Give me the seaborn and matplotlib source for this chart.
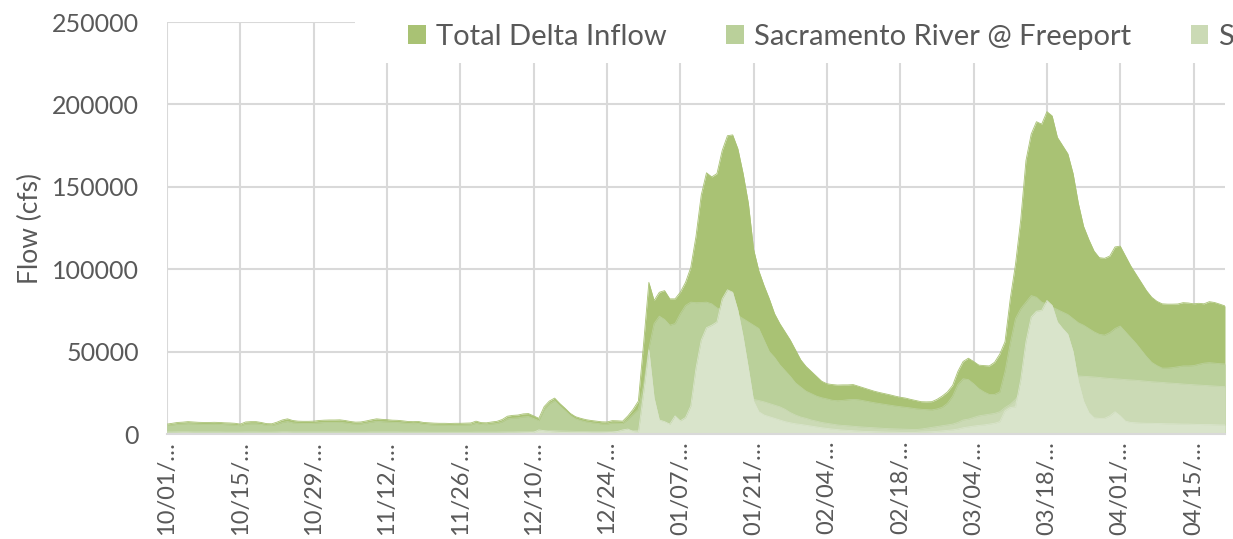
import numpy as np
import pandas as pd
import matplotlib
matplotlib.use('Agg')
import matplotlib.pyplot as plt
import seaborn as sns
from matplotlib.patches import Patch, Rectangle
from matplotlib.ticker import FuncFormatter

# Daily flows in thousand cfs, 10/01 to 04/21
total_kcfs = [
    6.0, 6.5, 7.0, 7.2, 7.5, 7.3, 7.1, 7.0, 7.0, 7.1, 7.0, 6.8, 6.7, 6.5,
    6.0, 7.3, 7.5, 7.5, 7.0, 6.3, 6.2, 7.2, 8.5, 9.2, 8.2, 7.8, 7.7, 7.7,
    7.8, 8.2, 8.4, 8.5, 8.5, 8.6, 8.2, 7.6, 7.2, 7.3, 7.9, 8.6, 9.2, 8.9,
    8.7, 8.4, 8.3, 8.0, 7.6, 7.5, 7.6, 7.0, 6.8, 6.6, 6.5, 6.5, 6.4, 6.5,
    6.5, 6.6, 6.7, 7.8, 6.9, 6.8, 7.3, 7.7, 8.8, 10.8, 11.3, 11.5, 12.2, 12.4,
    11.0, 9.5, 16.6, 20.0, 21.8, 18.5, 15.6, 12.5, 10.5, 9.5, 8.7, 8.2, 7.8, 7.4,
    7.3, 8.1, 8.0, 7.8, 11.0, 15.0, 20.0, 55.0, 92.0, 81.0, 86.0, 87.0, 82.0, 82.0,
    86.0, 92.0, 101.0, 120.0, 145.0, 158.5, 156.0, 158.0, 172.0, 181.0, 181.5, 173.0, 158.0, 140.0,
    112.0, 99.0, 90.0, 82.0, 73.0, 67.0, 62.0, 57.0, 51.0, 45.0, 41.0, 38.0, 35.0, 32.0,
    30.5, 30.0, 29.7, 29.8, 29.8, 30.0, 29.0, 28.0, 27.0, 26.0, 25.2, 24.5, 23.8, 23.0,
    22.3, 21.8, 21.0, 20.3, 19.6, 19.5, 19.6, 21.0, 23.0, 25.5, 29.5, 38.0, 44.0, 46.0,
    44.0, 41.8, 41.5, 41.3, 43.5, 48.5, 56.0, 82.0, 103.0, 130.0, 166.0, 182.0, 189.5, 188.0,
    195.6, 193.0, 180.0, 175.0, 170.0, 158.0, 140.0, 126.0, 118.0, 111.0, 107.0, 106.6, 108.0, 113.5,
    114.0, 108.0, 102.0, 97.0, 92.0, 87.0, 83.0, 80.5, 79.0, 78.8, 78.8, 78.9, 79.7, 79.5,
    79.0, 79.3, 79.0, 80.3, 79.8, 78.8, 77.7,
]
sacramento_kcfs = [
    5.2, 5.5, 5.9, 6.1, 6.3, 6.2, 6.0, 5.9, 5.9, 6.0, 5.9, 5.7, 5.6, 5.4,
    5.0, 6.0, 6.2, 6.2, 5.8, 5.3, 5.2, 5.9, 7.0, 7.6, 6.8, 6.5, 6.4, 6.4,
    6.5, 6.8, 7.0, 7.0, 7.0, 7.1, 6.8, 6.3, 6.0, 6.1, 6.6, 7.2, 7.7, 7.5,
    7.3, 7.1, 7.0, 6.8, 6.4, 6.3, 6.4, 5.9, 5.7, 5.5, 5.4, 5.4, 5.3, 5.4,
    5.4, 5.5, 5.6, 6.5, 5.8, 5.7, 6.1, 6.4, 7.4, 9.2, 9.6, 9.8, 10.4, 10.6,
    9.4, 8.1, 14.8, 18.3, 20.2, 17.0, 14.2, 11.2, 9.2, 8.2, 7.4, 6.9, 6.5, 6.1,
    6.0, 6.7, 6.6, 6.4, 8.8, 12.0, 15.0, 30.0, 52.0, 67.0, 71.5, 69.5, 66.0, 67.0,
    73.0, 78.0, 80.0, 79.7, 79.8, 80.0, 79.0, 76.5, 75.5, 74.0, 73.0, 72.0, 70.0, 68.0,
    66.0, 64.0, 57.0, 50.0, 46.5, 42.0, 38.5, 35.0, 31.0, 28.5, 26.0, 24.5, 23.0, 22.0,
    21.3, 20.5, 20.2, 20.4, 20.8, 21.0, 20.8, 20.2, 19.6, 19.0, 18.5, 18.0, 17.5, 17.0,
    16.6, 16.2, 15.8, 15.3, 15.0, 14.8, 14.6, 15.2, 16.2, 18.6, 23.0, 30.0, 33.5, 33.0,
    30.5, 27.5, 25.5, 24.0, 24.0, 25.5, 38.0, 55.0, 70.0, 76.0, 80.0, 84.0, 83.0, 80.0,
    79.0, 77.0, 75.5, 74.0, 72.5, 70.0, 67.5, 66.0, 64.0, 62.0, 60.5, 60.0, 61.5, 64.0,
    65.5, 62.0, 58.5, 55.0, 51.0, 47.0, 43.5, 41.5, 40.0, 40.0, 40.3, 40.8, 41.3, 41.3,
    41.5, 42.3, 43.0, 43.3, 43.0, 42.7, 42.5,
]
san_joaquin_kcfs = [
    1.3, 1.3, 1.4, 1.4, 1.4, 1.3, 1.3, 1.3, 1.3, 1.3, 1.3, 1.2, 1.2, 1.2,
    1.2, 1.3, 1.3, 1.3, 1.2, 1.2, 1.2, 1.3, 1.4, 1.4, 1.3, 1.3, 1.3, 1.3,
    1.3, 1.3, 1.3, 1.3, 1.3, 1.3, 1.3, 1.2, 1.2, 1.2, 1.2, 1.3, 1.3, 1.3,
    1.3, 1.3, 1.3, 1.2, 1.2, 1.2, 1.2, 1.2, 1.1, 1.1, 1.1, 1.1, 1.1, 1.1,
    1.1, 1.1, 1.1, 1.2, 1.2, 1.2, 1.2, 1.2, 1.3, 1.3, 1.3, 1.4, 1.4, 1.4,
    1.4, 1.5, 1.8, 2.0, 2.0, 1.9, 1.8, 1.7, 1.6, 1.5, 1.5, 1.4, 1.4, 1.4,
    1.4, 1.5, 1.5, 1.6, 1.8, 2.0, 2.2, 3.0, 4.0, 5.0, 5.0, 5.0, 5.0, 5.0,
    5.0, 5.5, 6.0, 9.0, 13.0, 17.0, 20.0, 22.0, 23.0, 24.0, 24.0, 23.5, 23.0, 22.0,
    21.0, 20.3, 19.5, 18.5, 17.5, 16.5, 15.0, 13.0, 11.5, 10.3, 9.5, 8.5, 7.8, 7.0,
    6.5, 6.0, 5.5, 5.2, 5.0, 4.7, 4.4, 4.2, 4.0, 3.8, 3.6, 3.4, 3.2, 3.1,
    3.0, 2.9, 2.8, 2.7, 3.0, 3.5, 4.0, 4.5, 5.0, 5.5, 6.0, 7.0, 8.5, 9.0,
    10.0, 11.0, 11.5, 12.0, 12.5, 13.5, 16.0, 18.0, 21.0, 25.0, 29.0, 32.0, 34.0, 35.5,
    36.5, 37.0, 37.0, 36.5, 36.0, 35.5, 35.2, 35.0, 34.8, 34.6, 34.3, 34.0, 33.7, 33.5,
    33.3, 33.0, 32.8, 32.6, 32.3, 32.0, 31.7, 31.5, 31.3, 31.0, 30.8, 30.6, 30.3, 30.1,
    29.9, 29.7, 29.5, 29.3, 29.1, 28.9, 28.7,
]
yolo_kcfs = [
    0.5, 0.5, 0.5, 0.6, 0.6, 0.5, 0.5, 0.5, 0.5, 0.5, 0.5, 0.5, 0.5, 0.5,
    0.5, 0.5, 0.5, 0.5, 0.5, 0.5, 0.5, 0.5, 0.6, 0.6, 0.5, 0.5, 0.5, 0.5,
    0.5, 0.5, 0.5, 0.5, 0.5, 0.5, 0.5, 0.5, 0.5, 0.5, 0.5, 0.5, 0.5, 0.5,
    0.5, 0.5, 0.5, 0.5, 0.5, 0.5, 0.5, 0.5, 0.5, 0.5, 0.5, 0.5, 0.5, 0.5,
    0.5, 0.5, 0.5, 0.5, 0.5, 0.5, 0.5, 0.5, 0.5, 0.6, 0.6, 0.6, 0.7, 0.8,
    1.0, 2.5, 2.0, 1.5, 1.2, 1.0, 0.9, 0.8, 0.8, 0.8, 0.8, 0.7, 0.7, 0.7,
    0.8, 1.0, 1.5, 2.5, 3.0, 1.5, 1.0, 25.0, 51.0, 22.0, 8.5, 7.5, 6.0, 11.0,
    8.0, 10.0, 17.0, 40.0, 57.0, 64.5, 66.0, 68.0, 82.0, 87.5, 86.0, 75.0, 59.0, 40.0,
    20.0, 13.5, 11.5, 10.5, 9.5, 8.5, 7.5, 6.8, 6.2, 5.8, 5.3, 4.8, 4.3, 3.8,
    3.4, 3.0, 2.7, 2.4, 2.2, 2.0, 1.8, 1.6, 1.5, 1.4, 1.3, 1.2, 1.1, 1.1,
    1.0, 1.0, 1.0, 1.0, 1.2, 1.3, 1.4, 1.6, 1.9, 2.2, 2.5, 3.0, 3.8, 4.3,
    4.8, 5.2, 5.5, 6.0, 6.5, 7.5, 14.0, 16.0, 16.5, 33.0, 56.0, 71.0, 74.5, 75.0,
    81.0, 78.0, 68.0, 64.0, 60.5, 50.0, 32.0, 20.0, 13.0, 9.8, 9.5, 9.5, 11.0, 13.5,
    11.0, 7.8, 7.0, 6.8, 6.6, 6.5, 6.5, 6.4, 6.3, 6.2, 6.2, 6.1, 6.0, 6.0,
    5.9, 5.8, 5.7, 5.7, 5.6, 5.5, 5.5,
]

series_names = ['Total Delta Inflow', 'Sacramento River @ Freeport',
                'San Joaquin River @ Vernalis', 'Yolo Bypass']
series_colors = ['#a9c274', '#bad09a', '#cbdab5', '#d9e4cb']

n = len(total_kcfs)
for s in (sacramento_kcfs, san_joaquin_kcfs, yolo_kcfs):
    if len(s) != n:
        raise ValueError(f'length mismatch {len(s)} vs {n}')

df = pd.DataFrame({'date': pd.date_range('2016-10-01', periods=n, freq='D')})
for name, vals in zip(series_names, [total_kcfs, sacramento_kcfs, san_joaquin_kcfs, yolo_kcfs]):
    df[name] = np.array(vals) * 1000

sns.set_theme(style='white')
plt.rcParams['font.family'] = ['Lato', 'DejaVu Sans']
text_color = '#595959'
grid_color = '#d9d9d9'

fig = plt.figure(figsize=(12.33, 5.39), dpi=100)
ax = fig.add_axes([167 / 1233, 105 / 539, 1058 / 1233, 412 / 539])

# overlapping (not stacked) areas, back to front
for i, (name, color) in enumerate(zip(series_names, series_colors)):
    ax.fill_between(df['date'], 0, df[name], color=color, linewidth=0, zorder=1 + i)
    sns.lineplot(data=df, x='date', y=name, color=color, linewidth=0.6,
                 ax=ax, zorder=1.5 + i)

ax.set_xlim(df['date'].iloc[0], df['date'].iloc[-1])
ax.set_ylim(0, 250000)
ax.set_yticks(np.arange(0, 250001, 50000))
ax.yaxis.set_major_formatter(FuncFormatter(lambda v, p: f'{int(v)}'))

tick_dates = df['date'].iloc[::14]
ax.set_xticks(tick_dates)
ax.set_xticklabels([f'{d:%m/%d}/\u2026' for d in tick_dates], rotation=90)

ax.grid(True, color=grid_color, linewidth=1.5)
ax.set_axisbelow(True)
for side in ['top', 'right', 'left']:
    ax.spines[side].set_visible(False)
ax.spines['bottom'].set_color(grid_color)
ax.spines['bottom'].set_linewidth(1.5)
ax.spines['bottom'].set_zorder(10)

ax.tick_params(axis='x', length=4, width=1.5, color=grid_color, labelsize=17,
               labelcolor=text_color, pad=1)
ax.tick_params(axis='y', length=0, labelsize=18, labelcolor=text_color, pad=20)
ax.set_xlabel('')
ax.set_ylabel('Flow (cfs)', fontsize=19, color=text_color)
ax.yaxis.set_label_coords(-124 / 1058, 0.5)

# legend background hides the grid behind it
fig.add_artist(Rectangle((355 / 1233, 1 - 63 / 539), 1, 63 / 539,
                         transform=fig.transFigure, facecolor='white',
                         edgecolor='none', zorder=4))
handles = [Patch(facecolor=c, edgecolor='none') for c in series_colors]
leg = fig.legend(handles, series_names, loc='center left',
                 bbox_to_anchor=(408 / 1233, 1 - 37 / 539), ncol=4, frameon=False,
                 fontsize=21, handlelength=0.6, handleheight=0.6,
                 handletextpad=0.35, columnspacing=2.05, borderpad=0, borderaxespad=0)
leg.set_zorder(5)
for t in leg.get_texts():
    t.set_color(text_color)

fig.savefig('out.png', dpi=100)
